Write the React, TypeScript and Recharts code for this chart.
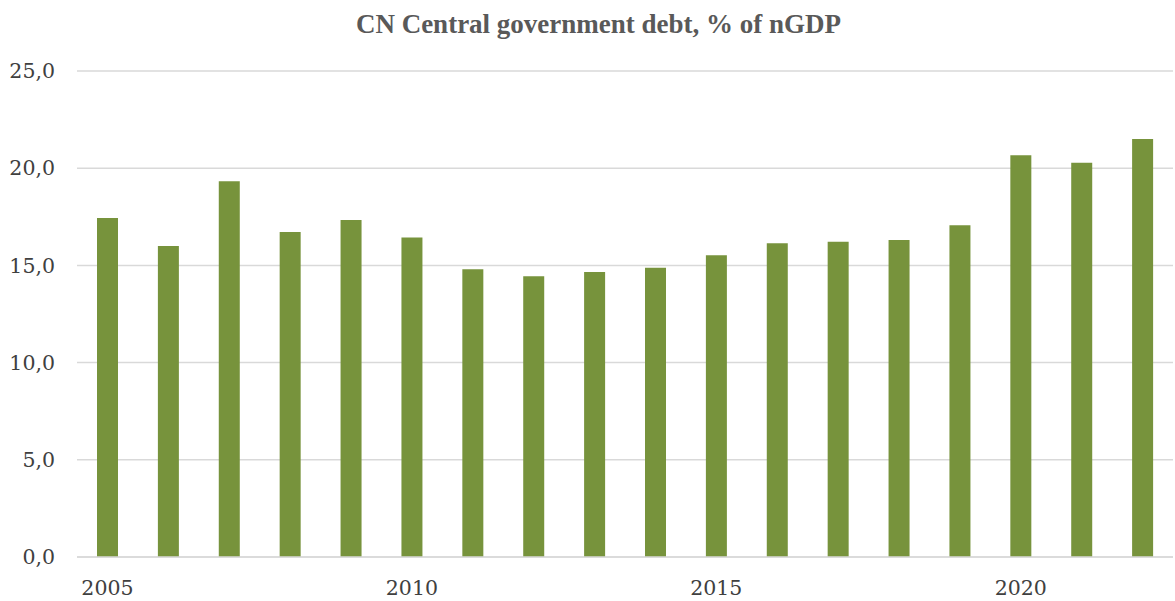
import React from "react";
import { BarChart, Bar, XAxis, YAxis, CartesianGrid } from "recharts";

const years = ["2005","2006","2007","2008","2009","2010","2011","2012","2013","2014","2015","2016","2017","2018","2019","2020","2021","2022"];
const debt = [17.44, 16.0, 19.33, 16.72, 17.33, 16.43, 14.8, 14.44, 14.66, 14.88, 15.52, 16.14, 16.22, 16.31, 17.06, 20.66, 20.28, 21.5];
const yTicks = [0, 5, 10, 15, 20, 25];
const title = "CN Central government debt, % of nGDP";

const data = years.map((y, i) => ({ year: y, value: debt[i] }));

export default function App() {
  return (
    <div style={{ position: "absolute", left: 0, top: 0, width: 1175, height: 601, background: "#fff" }}>
      <div
        style={{
          position: "absolute",
          left: 0,
          top: 8,
          width: 1197,
          textAlign: "center",
          fontFamily: "'Liberation Serif', serif",
          fontWeight: "bold",
          fontSize: 27,
          color: "#595959",
          lineHeight: "32px",
        }}
      >
        {title}
      </div>
      <BarChart
        width={1175}
        height={601}
        data={data}
        margin={{ top: 71, right: 2, left: 0, bottom: 0 }}
        barSize={21}
      >
        <CartesianGrid vertical={false} stroke="#d9d9d9" strokeWidth={1.5} />
        <XAxis
          dataKey="year"
          interval={4}
          height={44}
          tickLine={false}
          tickSize={0}
          tickMargin={23}
          axisLine={{ stroke: "#d9d9d9", strokeWidth: 1.5 }}
          tick={{ fill: "#404040", fontSize: 20.5, fontFamily: "'DejaVu Serif', serif" }}
        />
        <YAxis
          width={77}
          domain={[0, 25]}
          ticks={yTicks}
          axisLine={false}
          tickLine={false}
          tickSize={0}
          tickMargin={22}
          tickFormatter={(v: number) => v.toFixed(1).replace(".", ",")}
          tick={{ fill: "#404040", fontSize: 20.5, fontFamily: "'DejaVu Serif', serif" }}
        />
        <Bar dataKey="value" fill="#77933c" isAnimationActive={false} />
      </BarChart>
    </div>
  );
}
